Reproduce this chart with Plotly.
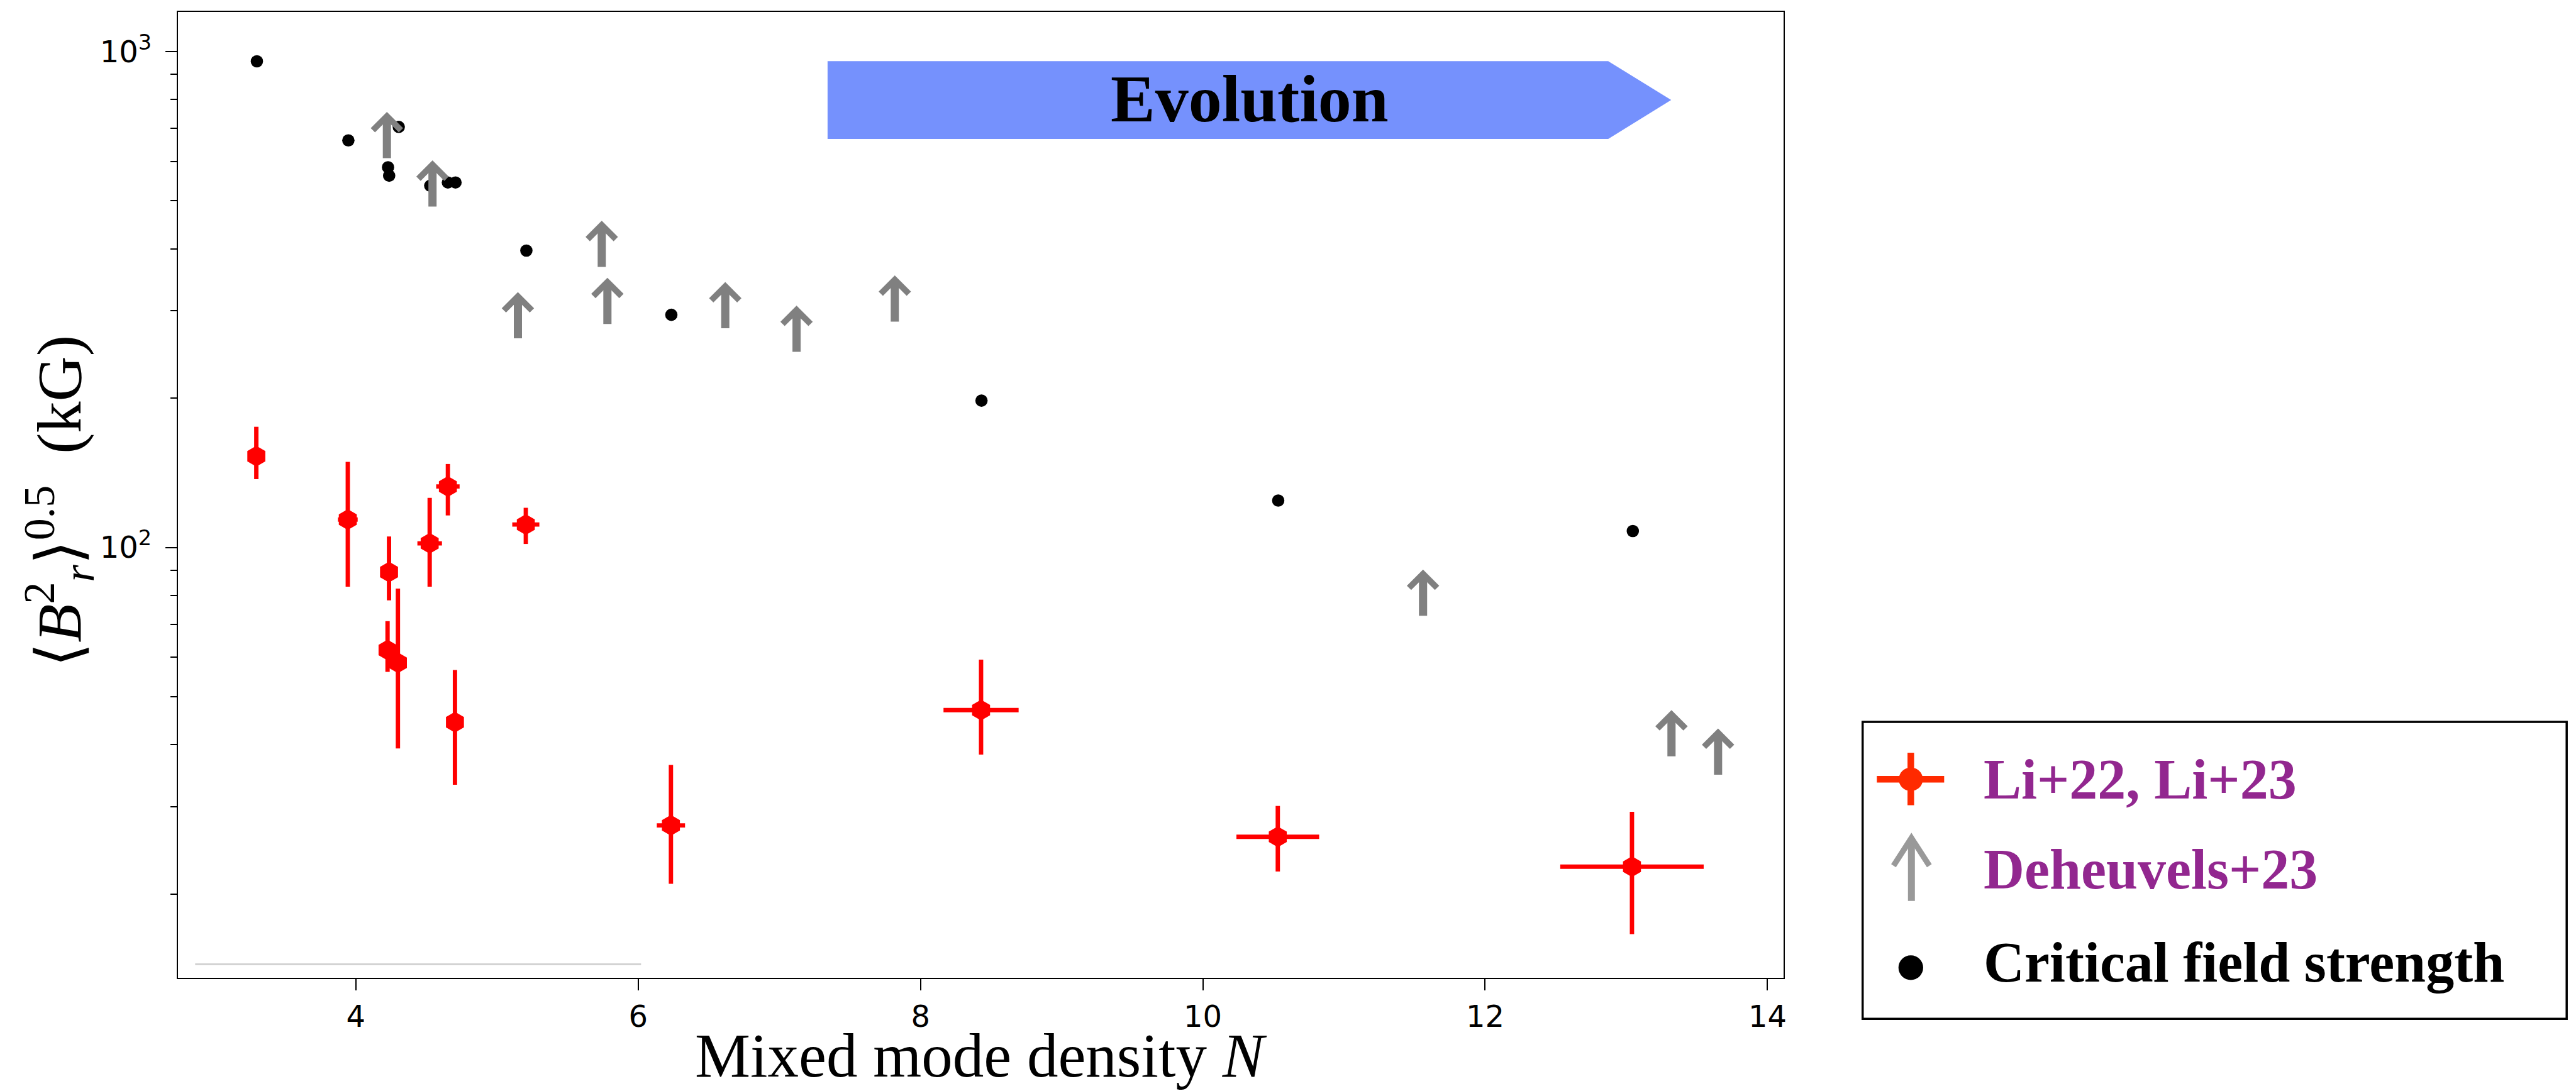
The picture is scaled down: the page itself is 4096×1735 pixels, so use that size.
import numpy as np
import plotly.graph_objects as go

# ---------------- data ----------------
# Li+22, Li+23 measurements
li_x = [3.295, 3.943, 4.235, 4.523, 4.652, 5.204, 4.2245, 4.298, 4.702, 6.232, 8.429, 10.531, 13.04]
li_y = [152.7, 113.8, 89.2, 101.9, 132.7, 111.2, 62.1, 58.5, 44.4, 27.5, 46.97, 26.08, 22.7]
li_y_hi = [175.1, 148.8, 105.2, 125.9, 147.3, 120.2, 71.0, 82.6, 56.6, 36.4, 59.4, 30.1, 29.3]
li_y_lo = [137.3, 83.3, 78.2, 83.3, 116.0, 101.6, 56.1, 39.3, 33.2, 20.96, 38.2, 22.2, 16.6]
li_x_err = [0.05, 0.07, 0.05, 0.087, 0.083, 0.096, 0.05, 0.05, 0.05, 0.10, 0.266, 0.293, 0.508]

# Deheuvels+23 lower limits (base of each arrow)
deh_x = [4.22, 4.543, 5.148, 5.742, 5.782, 6.617, 7.122, 7.818, 11.56, 13.32, 13.65]
deh_y = [609.8, 486.8, 264.1, 367.7, 282.3, 276.7, 248.0, 285.4, 72.8, 37.9, 34.8]

# Critical field strength
crit_x = [3.299, 3.947, 4.304, 4.228, 4.236, 4.527, 4.652, 4.706, 5.208, 6.235, 8.432, 10.534, 13.046]
crit_y = [955.8, 662.0, 704.8, 584.4, 561.9, 536.4, 544.5, 544.5, 396.8, 294.5, 197.7, 124.3, 107.9]

x_ticks = [4, 6, 8, 10, 12, 14]
y_ticks = [100, 1000]
y_tick_text = ["10<sup>2</sup>", "10<sup>3</sup>"]
y_minor = [20, 30, 40, 50, 60, 70, 80, 90, 200, 300, 400, 500, 600, 700, 800, 900]
x_range = [2.740, 14.114]
y_range = [13.55, 1202.0]

legend_labels = ["Li+22, Li+23", "Deheuvels+23", "Critical field strength"]

# ---------------- layout geometry ----------------
S = 0.982
FIG_W, FIG_H = 4096, 1735
ML, MR, MT, MB = 283, 1260, 19, 180
PW = FIG_W - ML - MR
PH = FIG_H - MT - MB


def px(x_ref):
    return (x_ref * S - ML) / PW


def py(y_ref):
    return (FIG_H - MB - y_ref * S) / PH


RED = "#ff0000"
GRAY = "#808080"
PURPLE = "#92278f"
SERIF = "Liberation Serif"

fig = go.Figure()

# red error-bar points
ly = np.array(li_y)
fig.add_trace(go.Scatter(
    x=li_x, y=li_y, mode="markers",
    marker=dict(symbol="hexagon", size=33, color=RED, line=dict(width=0)),
    error_x=dict(type="data", array=li_x_err, color=RED, thickness=6.9, width=0),
    error_y=dict(type="data", array=list(np.array(li_y_hi) - ly),
                 arrayminus=list(ly - np.array(li_y_lo)),
                 color=RED, thickness=6.9, width=0),
    name=legend_labels[0], showlegend=False,
))

# black critical-field dots
fig.add_trace(go.Scatter(
    x=crit_x, y=crit_y, mode="markers",
    marker=dict(symbol="circle", size=19.6, color="black", line=dict(width=0)),
    name=legend_labels[2], showlegend=False,
))

annotations = []
# gray upward arrows (lower limits)
for xv, yv in zip(deh_x, deh_y):
    annotations.append(dict(
        x=xv, y=np.log10(yv), xref="x", yref="y",
        ax=0, ay=-75, axref="pixel", ayref="pixel",
        text="", showarrow=True, arrowside="start",
        startarrowhead=4, startarrowsize=0.66, arrowwidth=13,
        arrowcolor=GRAY, standoff=0, startstandoff=0,
        font=dict(size=1),
    ))

# axis titles
annotations.append(dict(
    x=0.5, y=-MB / PH, xref="paper", yref="paper",
    text="Mixed mode density <i>N</i>", showarrow=False,
    xanchor="center", yanchor="bottom",
    font=dict(family=SERIF, size=99, color="black"),
))
annotations.append(dict(
    x=px(96), y=py(811), xref="paper", yref="paper",
    text="⟨<i>B</i><sup>2</sup><sub><i>r</i></sub>⟩<sup>0.5</sup>  (kG)",
    showarrow=False, textangle=-90,
    xanchor="center", yanchor="middle",
    font=dict(family=SERIF, size=100, color="black"),
))

# Evolution banner text
annotations.append(dict(
    x=px(2023), y=py(160), xref="paper", yref="paper",
    text="<b>Evolution</b>", showarrow=False,
    xanchor="center", yanchor="middle",
    font=dict(family=SERIF, size=106, color="black"),
))

# legend texts
leg_y = [1262, 1408, 1559]
leg_col = [PURPLE, PURPLE, "black"]
for lab, yy, cc in zip(legend_labels, leg_y, leg_col):
    annotations.append(dict(
        x=px(3210), y=py(yy), xref="paper", yref="paper",
        text="<b>" + lab + "</b>", showarrow=False,
        xanchor="left", yanchor="middle",
        font=dict(family=SERIF, size=90, color=cc),
    ))

shapes = []
# Evolution banner arrow
evo = (f"M {px(1340)},{py(99)} L {px(2604)},{py(99)} L {px(2706)},{py(162)} "
       f"L {px(2604)},{py(225)} L {px(1340)},{py(225)} Z")
shapes.append(dict(type="path", path=evo, xref="paper", yref="paper",
                   fillcolor="#7591fd", line=dict(width=0), layer="below"))

# faint gray line near bottom of the axes
shapes.append(dict(type="line", xref="paper", yref="paper",
                   x0=px(316), x1=px(1038), y0=py(1561.5), y1=py(1561.5),
                   line=dict(color="#d3d3d3", width=3)))

# legend box
shapes.append(dict(type="rect", xref="paper", yref="paper",
                   x0=px(3016), x1=px(4156), y0=py(1650), y1=py(1169),
                   line=dict(color="black", width=3.5), fillcolor="white"))
# legend glyph: red error bar
LRED = "#ff2a00"
shapes.append(dict(type="line", xref="paper", yref="paper",
                   x0=px(3039), x1=px(3148), y0=py(1262), y1=py(1262),
                   line=dict(color=LRED, width=10.5)))
shapes.append(dict(type="line", xref="paper", yref="paper",
                   x0=px(3094), x1=px(3094), y0=py(1219), y1=py(1304),
                   line=dict(color=LRED, width=10.5)))
shapes.append(dict(type="circle", xref="paper", yref="paper",
                   x0=px(3074.5), x1=px(3113.5), y0=py(1281), y1=py(1243),
                   fillcolor=LRED, line=dict(width=0)))
# legend glyph: gray arrow
LGRAY = "#999999"
shapes.append(dict(type="line", xref="paper", yref="paper",
                   x0=px(3095), x1=px(3095), y0=py(1459), y1=py(1365),
                   line=dict(color=LGRAY, width=11)))
head = (f"M {px(3066)},{py(1402)} L {px(3095)},{py(1357)} L {px(3124)},{py(1402)}")
shapes.append(dict(type="path", path=head, xref="paper", yref="paper",
                   line=dict(color=LGRAY, width=9)))
# legend glyph: black dot
shapes.append(dict(type="circle", xref="paper", yref="paper",
                   x0=px(3074), x1=px(3114), y0=py(1587), y1=py(1547),
                   fillcolor="black", line=dict(width=0)))

tickfont = dict(family="DejaVu Sans", size=48, color="black")

fig.update_layout(
    width=FIG_W, height=FIG_H,
    margin=dict(l=ML, r=MR, t=MT, b=MB, pad=0),
    paper_bgcolor="white", plot_bgcolor="white",
    showlegend=False,
    annotations=annotations, shapes=shapes,
    xaxis=dict(range=x_range, tickvals=x_ticks, ticks="outside", ticklen=18,
               tickwidth=2.3, tickcolor="black", showline=True, linewidth=2.4,
               linecolor="black", mirror=True, showgrid=False, zeroline=False,
               tickfont=tickfont, ticklabelstandoff=0),
    yaxis=dict(type="log", range=[np.log10(y_range[0]), np.log10(y_range[1])],
               tickvals=y_ticks, ticktext=y_tick_text, ticks="outside", ticklen=18,
               tickwidth=2.3, tickcolor="black", showline=True, linewidth=2.4,
               linecolor="black", mirror=True, showgrid=False, zeroline=False,
               tickfont=tickfont, ticklabelstandoff=12,
               minor=dict(tickvals=y_minor, ticks="outside", ticklen=10,
                          tickwidth=2.0, tickcolor="black", showgrid=False)),
)

fig.write_html("out.html")
